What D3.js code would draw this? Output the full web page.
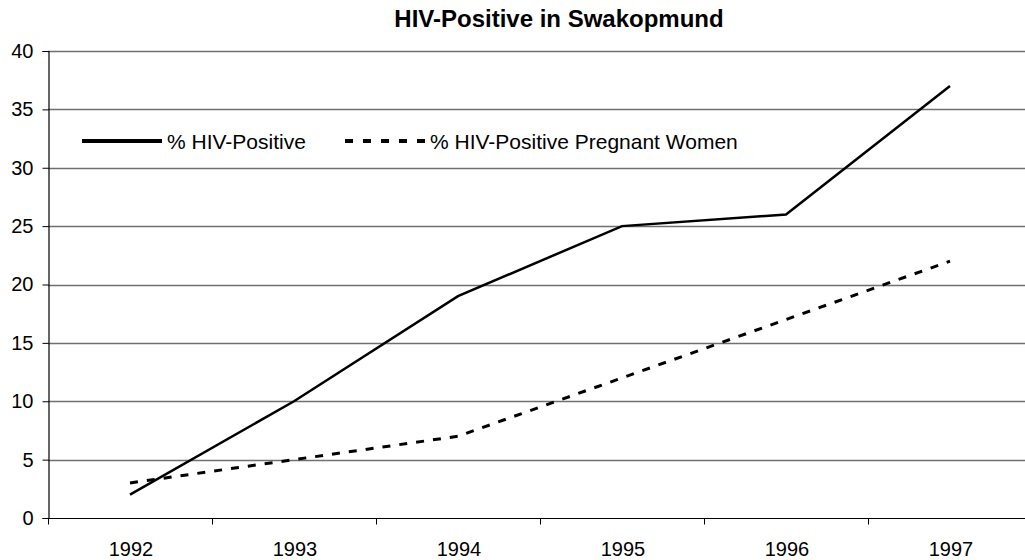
<!DOCTYPE html>
<html>
<head>
<meta charset="utf-8">
<script src="https://cdn.jsdelivr.net/npm/d3@7"></script>
<style>
  body { margin: 0; background: #fff; }
  text { font-family: "Liberation Sans", Arial, sans-serif; }
</style>
</head>
<body>
<script>
var years = ["1992", "1993", "1994", "1995", "1996", "1997"];
var hivPositive = [2, 10, 19, 25, 26, 37];
var hivPregnant = [3, 5, 7, 12, 17, 22];
var yTicks = [0, 5, 10, 15, 20, 25, 30, 35, 40];

var width = 1025,
    height = 560;

var svg = d3.select("body")
          .append("svg")
          .attr("width", width)
          .attr("height", height);

var x = d3.scaleBand()
          .domain(years)
          .range([48, 1032]);

var y = d3.scaleLinear()
          .domain([0, 40])
          .range([518, 51]);

// gridlines
svg.selectAll("line.grid")
   .data(yTicks.slice(1))
   .enter()
   .append("line")
   .attr("class", "grid")
   .attr("x1", 48)
   .attr("x2", width)
   .attr("y1", function(d) { return Math.round(y(d)) + 0.5; })
   .attr("y2", function(d) { return Math.round(y(d)) + 0.5; })
   .attr("stroke", "#707070")
   .attr("stroke-width", 1.5);

// y axis
var yAxis = svg.append("g")
               .attr("transform", "translate(48.5,0)")
               .call(d3.axisLeft(y).tickValues(yTicks).tickSize(6).tickPadding(9));
yAxis.select(".domain").attr("stroke", "#000").attr("stroke-width", 1.2);
yAxis.selectAll("line").attr("stroke", "#000");
yAxis.selectAll("text").attr("font-size", 20).attr("fill", "#000")
     .style("font-family", "Liberation Sans, Arial, sans-serif");

// x axis with ticks between categories
var xAxis = svg.append("g")
               .attr("transform", "translate(0," + (Math.round(y(0)) + 0.5) + ")");
xAxis.append("line")
     .attr("x1", 48).attr("x2", width)
     .attr("stroke", "#000").attr("stroke-width", 1.2);
xAxis.selectAll("line.tick")
     .data(years)
     .enter()
     .append("line")
     .attr("class", "tick")
     .attr("x1", function(d) { return Math.round(x(d)) + 0.5; })
     .attr("x2", function(d) { return Math.round(x(d)) + 0.5; })
     .attr("y1", 0).attr("y2", 6)
     .attr("stroke", "#000");
xAxis.selectAll("text")
     .data(years)
     .enter()
     .append("text")
     .attr("x", function(d) { return x(d) + x.bandwidth() / 2 + 1; })
     .attr("y", 37)
     .attr("text-anchor", "middle")
     .attr("font-size", 20)
     .text(function(d) { return d; });

var line = d3.line()
             .x(function(d, i) { return x(years[i]) + x.bandwidth() / 2; })
             .y(function(d) { return y(d); });

svg.append("path")
   .datum(hivPositive)
   .attr("d", line)
   .attr("fill", "none")
   .attr("stroke", "#000")
   .attr("stroke-width", 2.5);

svg.append("path")
   .datum(hivPregnant)
   .attr("d", line)
   .attr("fill", "none")
   .attr("stroke", "#000")
   .attr("stroke-width", 3)
   .attr("stroke-dasharray", "8,9");

// legend
svg.append("line")
   .attr("x1", 82).attr("x2", 162)
   .attr("y1", 141).attr("y2", 141)
   .attr("stroke", "#000").attr("stroke-width", 4);
svg.append("text")
   .attr("x", 167).attr("y", 149)
   .attr("font-size", 21)
   .text("% HIV-Positive");
svg.append("line")
   .attr("x1", 345).attr("x2", 429)
   .attr("y1", 141).attr("y2", 141)
   .attr("stroke", "#000").attr("stroke-width", 4)
   .attr("stroke-dasharray", "8,10");
svg.append("text")
   .attr("x", 430).attr("y", 149)
   .attr("font-size", 21)
   .text("% HIV-Positive Pregnant Women");

// title
svg.append("text")
   .attr("x", 559).attr("y", 27)
   .attr("text-anchor", "middle")
   .attr("font-size", 24)
   .attr("font-weight", "bold")
   .text("HIV-Positive in Swakopmund");
</script>
</body>
</html>
